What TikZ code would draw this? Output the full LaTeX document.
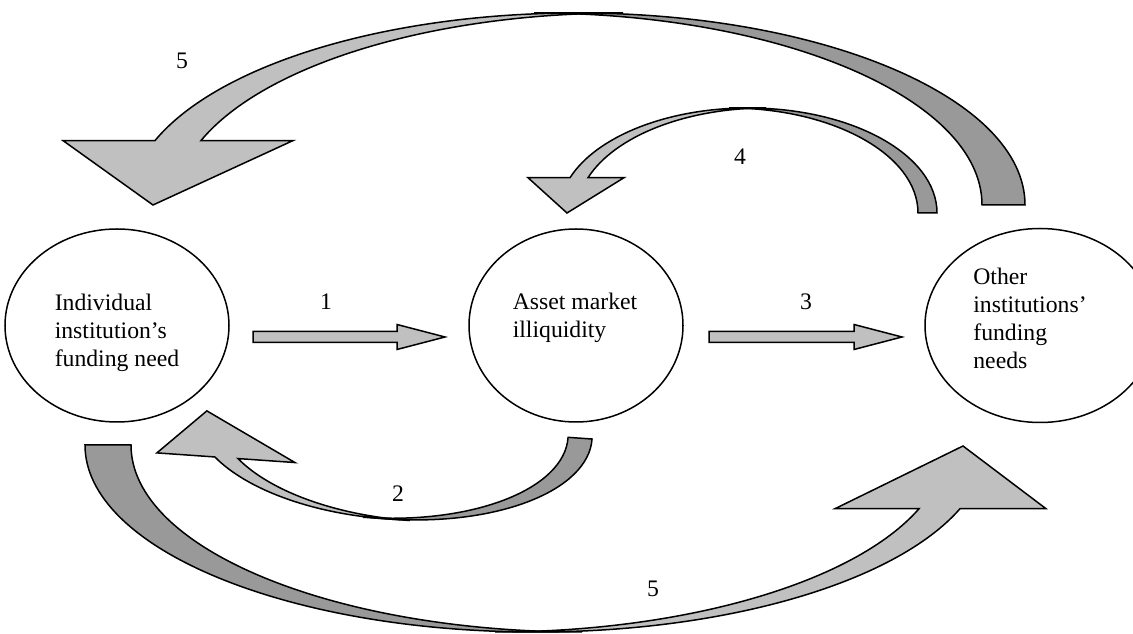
\documentclass[tikz,border=0pt]{standalone}
\usepackage{fontspec}
\setmainfont{Liberation Serif}
\usetikzlibrary{shapes.geometric,calc}
\definecolor{lightfill}{HTML}{C0C0C0}
\definecolor{darkfill}{HTML}{999999}
\tikzset{
  lightpart/.style={fill=lightfill, draw=black, line width=1.5pt, line join=miter},
  darkpart/.style={fill=darkfill, draw=black, line width=1.5pt},
  bubble/.style={ellipse, draw=black, line width=1.5pt, inner sep=0pt, outer sep=0pt},
  bubbletext/.style={align=left, inner sep=0pt, font=\fontsize{23.7pt}{28pt}\selectfont},
  steplabel/.style={inner sep=0pt, anchor=base, font=\fontsize{23.7pt}{28pt}\selectfont},
  blockarr/.style={fill=lightfill, draw=black, line width=1.5pt},
}
\newcommand\blockarrow[2]{\draw[blockarr] let \p1=(#1), \p2=(#2) in
  (\x1,\y1+5.5pt) -- (\x2-48pt,\y1+5.5pt) -- (\x2-48pt,\y1+12.5pt) -- (\x2,\y1)
  -- (\x2-48pt,\y1-12.5pt) -- (\x2-48pt,\y1-5.5pt) -- (\x1,\y1-5.5pt) -- cycle;}
\begin{document}
\begin{tikzpicture}[x=1pt,y=1pt]
\useasboundingbox (0,0) rectangle (1133,634);
\clip (0,0) rectangle (1133,634);

% ---- top arrow 5 (other -> individual)
\filldraw[darkpart] ([shift={(577,429)}]0:448 and 192)
  arc[start angle=0,end angle=90,x radius=448,y radius=192]
  -- ([shift={(534,429)}]90:448 and 192)
  arc[start angle=90,end angle=0,x radius=448,y radius=192] -- cycle;
\filldraw[lightpart] ([shift={(577,429)}]90:448 and 192)
  arc[start angle=90,end angle=160.4,x radius=448,y radius=192]
  -- (63,493.4) -- (153,429) -- (293,493.4)
  -- ([shift={(623,429)}]160.4:448 and 192)
  arc[start angle=160.4,end angle=90,x radius=448,y radius=192] -- cycle;

% ---- arrow 4 (other -> asset)
\filldraw[darkpart] ([shift={(748,421)}]0:189 and 105)
  arc[start angle=0,end angle=90,x radius=189,y radius=105]
  -- ([shift={(729,421)}]90:189 and 105)
  arc[start angle=90,end angle=0,x radius=189,y radius=105] -- cycle;
\filldraw[lightpart] ([shift={(748,421)}]90:189 and 105)
  arc[start angle=90,end angle=160.37,x radius=189,y radius=105]
  -- (528,456.3) -- (567,421) -- (624,456.3)
  -- ([shift={(766,421)}]160.37:189 and 105)
  arc[start angle=160.37,end angle=90,x radius=189,y radius=105] -- cycle;

% ---- arrow 2 (asset -> individual)
\begin{scope}[rotate around={-4:(401,194)}]
\filldraw[darkpart] ([shift={(392.3,208.3)}]0:199.2 and 94)
  arc[start angle=0,end angle=-90,x radius=199.2,y radius=94]
  -- ([shift={(368.3,208.3)}]-90:199.2 and 94)
  arc[start angle=-90,end angle=0,x radius=199.2,y radius=94] -- cycle;
\filldraw[lightpart] ([shift={(392.3,208.3)}]-90:199.2 and 94)
  arc[start angle=-90,end angle=-151.95,x radius=199.2,y radius=94]
  -- (158.4,164.1) -- (205.3,209.5) -- (296.8,164.1)
  -- ([shift={(415.5,208.3)}]-151.95:199.2 and 94)
  arc[start angle=-151.95,end angle=-90,x radius=199.2,y radius=94] -- cycle;
\end{scope}

% ---- bottom arrow 5 (individual -> other)
\filldraw[darkpart] ([shift={(536,189)}]180:451 and 187)
  arc[start angle=180,end angle=270,x radius=451,y radius=187]
  -- ([shift={(582,189)}]270:451 and 187)
  arc[start angle=270,end angle=180,x radius=451,y radius=187] -- cycle;
\filldraw[lightpart] ([shift={(536,189)}]270:451 and 187)
  arc[start angle=270,end angle=340.1,x radius=451,y radius=187]
  -- (1046,125.3) -- (963,188) -- (835,125.3)
  -- ([shift={(495,189)}]340.1:451 and 187)
  arc[start angle=340.1,end angle=270,x radius=451,y radius=187] -- cycle;

% ---- ellipses
\node[bubble, minimum width=224pt, minimum height=193pt] (ind) at (117,308.5) {};
\node[bubble, minimum width=214pt, minimum height=193pt] (asset) at (576,308.5) {};
\node[bubble, minimum width=230pt, minimum height=194pt] (other) at (1040,308.5) {};

\node[bubbletext] (indtext) at (117,301.5) {Individual\\institution’s\\funding need};
\node[bubbletext] (assettext) at (575,316.5) {Asset market\\illiquidity};
\node[bubbletext] (othertext) at (1030,315.5) {Other\\institutions’\\funding\\needs};

% ---- straight arrows
\coordinate (a1s) at ($(ind.east)+(24,-11.5)$);
\coordinate (a1e) at ($(asset.west)+(-24,-11.5)$);
\coordinate (a3s) at ($(asset.east)+(26,-11.5)$);
\coordinate (a3e) at ($(other.west)+(-23,-11.5)$);
\blockarrow{a1s}{a1e}
\blockarrow{a3s}{a3e}

% ---- labels
\node[steplabel] (n1) at (326,324) {1};
\node[steplabel] (n2) at (398,132) {2};
\node[steplabel] (n3) at (806,324) {3};
\node[steplabel] (n4) at (740,469) {4};
\node[steplabel] (n5a) at (182,565) {5};
\node[steplabel] (n5b) at (653,37) {5};
\end{tikzpicture}
\end{document}
